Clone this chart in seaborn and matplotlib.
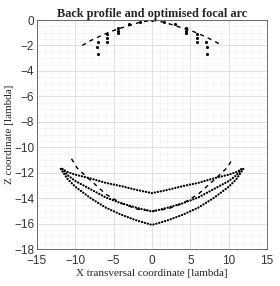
import numpy as np
import pandas as pd
import matplotlib
matplotlib.use("Agg")
import matplotlib.pyplot as plt
import seaborn as sns
from matplotlib.ticker import MultipleLocator

# back profile: dashed arc and element dots
arc_x = [-9.1, -8.05, -6.75, -5.45, -4.16, -2.86, -1.78, 0.0, 1.78, 2.86, 4.16, 5.45, 6.75, 8.05, 9.1]
arc_z = [-2.0, -1.63, -1.26, -0.92, -0.65, -0.42, -0.21, 0.0, -0.21, -0.42, -0.65, -0.92, -1.26, -1.63, -2.0]

dot_x = [-7.1, -7.2, -7.0, -5.9, -5.85, -5.85, -4.45, -4.4, -4.4, -3.0, -1.55, 0.0,
         1.55, 3.0, 4.4, 4.4, 4.4, 5.85, 5.85, 5.9, 7.0, 7.2, 7.1]
dot_z = [-1.7, -2.1, -2.67, -1.1, -1.4, -1.75, -0.65, -0.85, -1.0, -0.35, -0.13, 0.0,
         -0.13, -0.35, -0.65, -0.85, -1.0, -1.1, -1.4, -1.75, -1.7, -2.1, -2.67]

# focal arcs (three dotted curves)
fx = [-11.7, -11.0, -10.0, -8.0, -6.0, -4.0, -2.0, 0.0, 2.0, 4.0, 6.0, 8.0, 10.0, 11.0, 11.7]
upper_z = [-11.7, -11.95, -12.15, -12.45, -12.8, -13.05, -13.35, -13.6,
           -13.35, -13.05, -12.8, -12.45, -12.15, -11.95, -11.7]
middle_z = [-11.7, -12.2, -12.65, -13.3, -13.95, -14.4, -14.75, -15.05,
            -14.75, -14.4, -13.95, -13.3, -12.65, -12.2, -11.7]
lower_x = [-11.9, -11.0, -10.0, -8.0, -6.0, -4.0, -2.0, 0.0, 2.0, 4.0, 6.0, 8.0, 10.0, 11.0, 11.9]
lower_z = [-11.7, -12.5, -13.1, -14.0, -14.75, -15.3, -15.75, -16.1,
           -15.75, -15.3, -14.75, -14.0, -13.1, -12.5, -11.7]

# optimised focal arc (dashed)
opt_x = [-10.5, -9.8, -8.3, -7.0, -6.0, -4.0, -2.0, 0.0, 2.0, 4.0, 6.0, 7.0, 8.3, 9.8, 10.5]
opt_z = [-10.9, -11.6, -12.45, -13.15, -13.7, -14.4, -14.85, -15.0, -14.85, -14.4, -13.7, -13.15, -12.45, -11.6, -10.9]

sns.set_style("white")
plt.rcParams["font.family"] = ["Liberation Sans", "DejaVu Sans"]

fig, ax = plt.subplots(figsize=(2.8, 2.86), dpi=100)
fig.subplots_adjust(left=0.132, right=0.954, top=0.930, bottom=0.129)

sns.lineplot(x=arc_x, y=arc_z, ax=ax, color="black", linestyle=(0, (3, 3)), linewidth=1.0, sort=False)
sns.scatterplot(x=dot_x, y=dot_z, ax=ax, color="black", s=5, marker="o", linewidth=0)

for xs, zs in [(fx, upper_z), (fx, middle_z), (lower_x, lower_z)]:
    sns.lineplot(x=xs, y=zs, ax=ax, color="black", linestyle=(0, (0.1, 1.25)),
                 linewidth=1.6, sort=False, dash_capstyle="round")
sns.lineplot(x=opt_x, y=opt_z, ax=ax, color="black", linestyle=(0, (3, 3)), linewidth=1.0, sort=False)

ax.set_xlim(-15, 15)
ax.set_ylim(-18, 0)
ax.set_xticks([-15, -10, -5, 0, 5, 10, 15])
ax.set_yticks([-18, -16, -14, -12, -10, -8, -6, -4, -2, 0])
ax.xaxis.set_minor_locator(MultipleLocator(1))
ax.yaxis.set_minor_locator(MultipleLocator(0.5))
ax.grid(which="major", color="#dcdcdc", linewidth=0.6)
ax.grid(which="minor", color="#efefef", linewidth=0.4)
ax.set_axisbelow(True)
ax.tick_params(which="both", direction="in", labelsize=8.5, length=2, width=0.5, colors="#333333")
ax.tick_params(axis="x", pad=4)
ax.tick_params(axis="y", pad=2)
ax.tick_params(which="minor", length=0)
for s in ax.spines.values():
    s.set_color("#555555")
    s.set_linewidth(0.6)

ax.set_title("Back profile and optimised focal arc", family=["Liberation Serif"],
             fontweight="bold", fontsize=8.8, pad=2)
ax.set_xlabel("X transversal coordinate [lambda]", family=["Liberation Serif"], fontsize=8, labelpad=1.5)
ax.set_ylabel("Z coordinate [lambda]", family=["Liberation Serif"], fontsize=8, labelpad=0)

plt.savefig("out.png", dpi=100)
